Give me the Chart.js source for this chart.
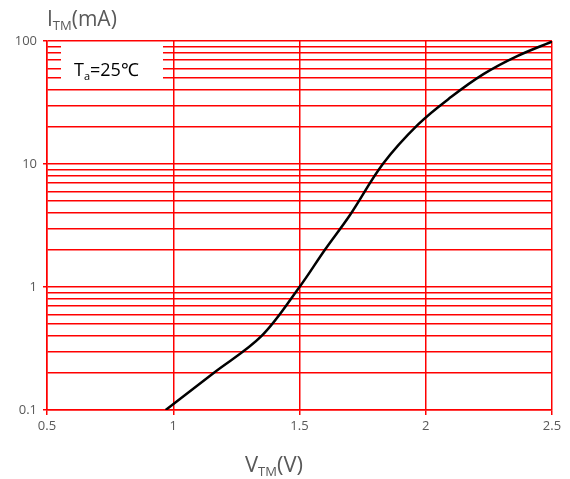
<!DOCTYPE html>
<html>
<head>
<meta charset="utf-8">
<script src="https://cdn.jsdelivr.net/npm/chart.js@4.4.1/dist/chart.umd.min.js"></script>
<style>
  html, body { margin: 0; padding: 0; background: #fff; }
  #wrap { width: 570px; height: 479px; }
</style>
</head>
<body>
<div id="wrap"><canvas id="chart"></canvas></div>
<script>
// forward voltage (V) vs forward current (mA)
const voltage = [0.97, 1.16, 1.35, 1.5, 1.6, 1.7, 1.83, 1.97, 2.1, 2.23, 2.36, 2.5];
const current = [0.1, 0.2, 0.4, 1.0, 2.0, 3.85, 10, 21, 35, 54, 75, 99];

const xTicks = [0.5, 1, 1.5, 2, 2.5];
const yDecades = [0.1, 1, 10, 100];
const yGrid = [0.1, 0.2, 0.3, 0.4, 0.5, 0.6, 0.7, 0.8, 0.9,
               1, 2, 3, 4, 5, 6, 7, 8, 9,
               10, 20, 30, 40, 50, 60, 70, 80, 90, 100];

const RED = '#ff0000';
const GREY = '#595959';
const FONT = "'Open Sans', 'Liberation Sans', sans-serif";

function drawSub(ctx, x, y, main, sub, tail, size, color) {
    ctx.save();
    ctx.fillStyle = color;
    ctx.textBaseline = 'alphabetic';
    ctx.textAlign = 'left';
    ctx.font = size + 'px ' + FONT;
    ctx.fillText(main, x, y);
    let cx = x + ctx.measureText(main).width;
    const subSize = Math.round(size * 0.6);
    ctx.font = subSize + 'px ' + FONT;
    ctx.fillText(sub, cx, y + size * 0.2);
    cx += ctx.measureText(sub).width;
    ctx.font = size + 'px ' + FONT;
    ctx.fillText(tail, cx, y);
    ctx.restore();
}

const labelsPlugin = {
    id: 'labels',
    afterDraw(chart) {
        const ctx = chart.ctx;
        const area = chart.chartArea;
        // legend box
        ctx.save();
        ctx.fillStyle = '#fff';
        ctx.fillRect(61, area.top + 1.5, 102, 43);
        ctx.restore();
        drawSub(ctx, 74, 76, 'T', 'a', '=25\u2103', 18, '#000');
        // axis titles
        drawSub(ctx, 47, 26, 'I', 'TM', '(mA)', 21, GREY);
        drawSub(ctx, 245, 472, 'V', 'TM', '(V)', 22, GREY);
    }
};

new Chart(document.getElementById('chart'), {
    type: 'scatter',
    data: {
        datasets: [{
            data: voltage.map((v, i) => ({ x: v, y: current[i] })),
            showLine: true,
            borderColor: '#000',
            borderWidth: 2.5,
            pointRadius: 0,
            tension: 0.35
        }]
    },
    options: {
        responsive: true,
        maintainAspectRatio: false,
        animation: false,
        layout: { padding: { top: 41, right: 18, left: 0, bottom: 0 } },
        plugins: { legend: { display: false }, tooltip: { enabled: false } },
        scales: {
            x: {
                type: 'linear',
                min: 0.5,
                max: 2.5,
                afterBuildTicks: s => { s.ticks = xTicks.map(v => ({ value: v })); },
                afterFit: s => { s.height = 69; },
                grid: { color: RED, lineWidth: 1.5, tickLength: 5, tickColor: RED },
                border: { color: RED, width: 1.5 },
                ticks: {
                    color: GREY,
                    font: { family: FONT, size: 13 },
                    padding: 3,
                    maxRotation: 0,
                    callback: v => String(v)
                }
            },
            y: {
                type: 'logarithmic',
                min: 0.1,
                max: 100,
                afterBuildTicks: s => { s.ticks = yGrid.map(v => ({ value: v })); },
                afterFit: s => { s.width = 47; },
                grid: {
                    color: RED,
                    lineWidth: 1.5,
                    tickLength: 4,
                    tickColor: c => yDecades.includes(c.tick && c.tick.value) ? RED : 'rgba(0,0,0,0)'
                },
                border: { color: RED, width: 1.5 },
                ticks: {
                    autoSkip: false,
                    color: GREY,
                    font: { family: FONT, size: 13 },
                    padding: 6,
                    callback: v => yDecades.includes(v) ? String(v) : ''
                }
            }
        }
    },
    plugins: [labelsPlugin]
});
</script>
</body>
</html>
